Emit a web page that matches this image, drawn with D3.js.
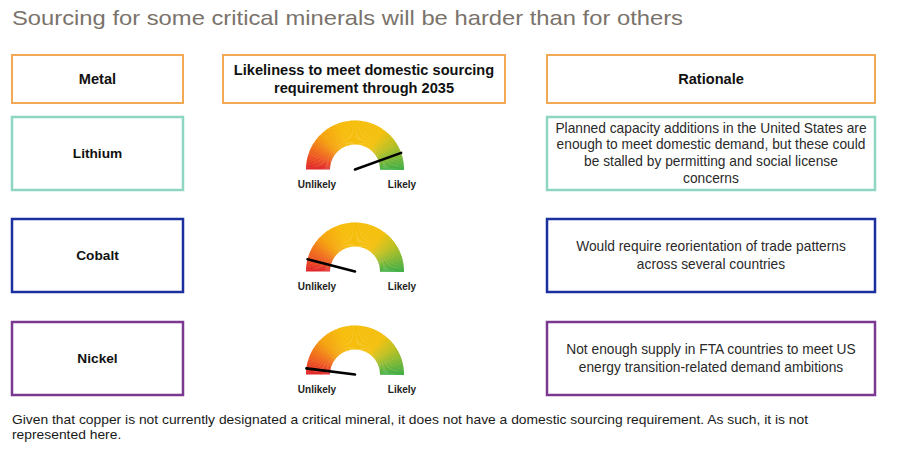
<!DOCTYPE html>
<html>
<head>
<meta charset="utf-8">
<script src="https://cdn.jsdelivr.net/npm/d3@7"></script>
<style>
  html, body { margin: 0; padding: 0; background: #fff; }
  svg { display: block; }
</style>
</head>
<body>
<svg id="chart" width="897" height="451"></svg>
<script>
// ---- data ----
const title = "Sourcing for some critical minerals will be harder than for others";
const headers = ["Metal", "Likeliness to meet domestic sourcing\nrequirement through 2035", "Rationale"];
const metals = ["Lithium", "Cobalt", "Nickel"];
const likeliness = [0.89, 0.08, 0.04]; // 0 = Unlikely, 1 = Likely
const rationales = [
  "Planned capacity additions in the United States are\nenough to meet domestic demand, but these could\nbe stalled by permitting and social license\nconcerns",
  "Would require reorientation of trade patterns\nacross several countries",
  "Not enough supply in FTA countries to meet US\nenergy transition-related demand ambitions"
];
const gaugeLabels = ["Unlikely", "Likely"];
const footnote = [
  "Given that copper is not currently designated a critical mineral, it does not have a domestic sourcing requirement. As such, it is not",
  "represented here."
];

// ---- styles ----
const headerColor = "#f2a955";
const rowColors = ["#8fd6c2", "#1b2f9e", "#7b3890"];
const rationaleLH = [16.7, 18, 18];
const font = "'Liberation Sans', Arial, sans-serif";

const svg = d3.select("#chart");

svg.append("text")
  .attr("x", 12).attr("y", 25)
  .attr("font-family", font).attr("font-size", 21)
  .attr("fill", "#7a736b")
  .attr("textLength", 671).attr("lengthAdjust", "spacingAndGlyphs")
  .text(title);

// column geometry
const cols = [
  { x: 12, w: 171 },
  { x: 223, w: 282 },
  { x: 547, w: 328 }
];
const headerBox = { y: 55, h: 48 };
const rowY = [117, 219, 322];
const rowH = 73;

function multiline(g, str, cx, cy, opts) {
  const lines = str.split("\n");
  const lh = opts.lh;
  const t = g.append("text")
    .attr("font-family", font)
    .attr("font-size", opts.size)
    .attr("font-weight", opts.weight || "normal")
    .attr("fill", opts.fill || "#111")
    .attr("text-anchor", "middle");
  lines.forEach((l, i) => {
    t.append("tspan")
      .attr("x", cx)
      .attr("y", cy + (i - (lines.length - 1) / 2) * lh)
      .attr("dy", "0.35em")
      .text(l);
  });
}

// header boxes
headers.forEach((h, i) => {
  const c = cols[i];
  svg.append("rect")
    .attr("x", c.x).attr("y", headerBox.y)
    .attr("width", c.w).attr("height", headerBox.h)
    .attr("fill", "#fff").attr("stroke", headerColor).attr("stroke-width", 2);
  multiline(svg, h, c.x + c.w / 2, headerBox.y + headerBox.h / 2 - 0.5,
    { size: 14.6, weight: "bold", lh: 18, fill: "#111" });
});

// rows
const valScale = d3.scaleLinear().domain([0, 1]).range([-Math.PI / 2, Math.PI / 2]);
const rOuter = 49, rInner = 25;
const arc = d3.arc().innerRadius(rInner).outerRadius(rOuter);
const colorScale = d3.scaleLinear()
  .domain([0, 0.1, 0.25, 0.4, 0.7, 0.82, 1])
  .range(["#e0262b", "#ee5a22", "#f5a20f", "#f7bd0c", "#f4c00e", "#b9c024", "#3fae46"]);
const nSeg = 90;
const segs = d3.range(nSeg).map(i => [i / nSeg, (i + 1) / nSeg]);

metals.forEach((m, i) => {
  const y = rowY[i];
  const col = rowColors[i];
  // metal box
  svg.append("rect")
    .attr("x", cols[0].x).attr("y", y)
    .attr("width", cols[0].w).attr("height", rowH)
    .attr("fill", "#fff").attr("stroke", col).attr("stroke-width", 2.5);
  multiline(svg, m, cols[0].x + cols[0].w / 2, y + rowH / 2,
    { size: 13.7, weight: "bold", lh: 18, fill: "#111" });

  // rationale box
  svg.append("rect")
    .attr("x", cols[2].x).attr("y", y)
    .attr("width", cols[2].w).attr("height", rowH)
    .attr("fill", "#fff").attr("stroke", col).attr("stroke-width", 2.5);
  multiline(svg, rationales[i], cols[2].x + cols[2].w / 2, y + rowH / 2 - 0.5,
    { size: 13.75, lh: rationaleLH[i], fill: "#2a2a2a" });

  // gauge
  const cx = 355, cy = y + rowH / 2 + 16;
  const g = svg.append("g").attr("transform", `translate(${cx},${cy})`);
  g.selectAll("path.seg").data(segs).join("path")
    .attr("class", "seg")
    .attr("d", d => arc({ startAngle: valScale(d[0]), endAngle: valScale(d[1]) + 0.01 }))
    .attr("fill", d => colorScale((d[0] + d[1]) / 2));
  const a = valScale(likeliness[i]);
  g.append("line")
    .attr("x1", 0).attr("y1", 0)
    .attr("x2", rOuter * Math.sin(a)).attr("y2", -rOuter * Math.cos(a))
    .attr("stroke", "#000").attr("stroke-width", 2.6).attr("stroke-linecap", "round");
  g.append("text")
    .attr("x", -38).attr("y", 18)
    .attr("text-anchor", "middle")
    .attr("font-family", font).attr("font-size", 10).attr("font-weight", "bold")
    .attr("fill", "#222")
    .text(gaugeLabels[0]);
  g.append("text")
    .attr("x", 47).attr("y", 18)
    .attr("text-anchor", "middle")
    .attr("font-family", font).attr("font-size", 10).attr("font-weight", "bold")
    .attr("fill", "#222")
    .text(gaugeLabels[1]);
});

// footnote
const fnFont = "'Liberation Sans Narrow', 'Arial Narrow', " + font;
const fnTexts = footnote.map((l, i) => svg.append("text")
    .attr("x", 12).attr("y", 424 + i * 15)
    .attr("font-family", fnFont)
    .attr("font-size", 13.5)
    .attr("fill", "#1a1a1a")
    .text(l));
const natural0 = fnTexts[0].node().getComputedTextLength();
const ratio = 796 / natural0;
fnTexts.forEach(t => {
  const w = t.node().getComputedTextLength() * ratio;
  t.attr("textLength", w).attr("lengthAdjust", "spacingAndGlyphs");
});
</script>
</body>
</html>
